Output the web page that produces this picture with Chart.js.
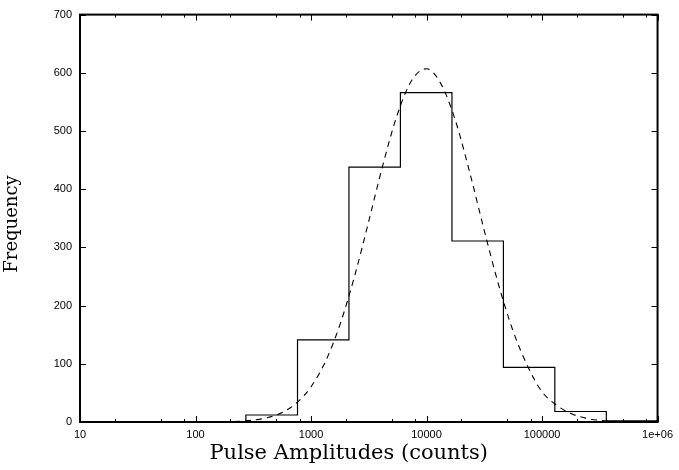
<!DOCTYPE html>
<html>
<head>
<meta charset="utf-8">
<script src="https://cdn.jsdelivr.net/npm/chart.js@4"></script>
<style>
  html, body { margin: 0; padding: 0; background: #fff; }
  #wrap { width: 679px; height: 470px; }
</style>
</head>
<body>
<div id="wrap"><canvas id="myChart"></canvas></div>
<script>
// histogram bins (pulse amplitude, counts)
var binEdges = [273, 764, 2130, 5940, 16600, 46300, 129000, 360000, 1000000];
var binCounts = [12, 141, 438, 566, 311, 94, 18, 2];

// dashed fit curve
var fitAmplitude = [10, 31.6, 56.2, 100, 133.4, 177.8, 237.1, 316.2, 421.7, 562.3, 749.9,
    1000, 1334, 1778, 2371, 3162, 4217, 5623, 7499, 10000, 13335, 17783, 23714, 31623,
    42170, 56234, 74989, 100000, 133352, 177828, 237137, 316228, 421697, 562341, 1000000];
var fitFrequency = [0, 0, 0, 0.05, 0.17, 0.5, 1.3, 3.3, 7.6, 16.3, 32.6,
    60.5, 104, 167, 249, 345, 444, 530, 588, 607, 581, 518, 428, 329,
    235, 156, 96, 52, 29, 14.5, 6.7, 2.8, 1.1, 0.4, 0];

// axis ticks
var xTickValues = [10, 100, 1000, 10000, 100000, 1000000];
var xTickLabels = ['10', '100', '1000', '10000', '100000', '1e+06'];
var xMinorSteps = [2, 5, 8];
var yTickValues = [0, 100, 200, 300, 400, 500, 600, 700];

// step outline of the histogram
var histPoints = [{ x: binEdges[0], y: 0 }];
for (var i = 0; i < binCounts.length; i++) {
    histPoints.push({ x: binEdges[i], y: binCounts[i] });
}
histPoints.push({ x: binEdges[binEdges.length - 1], y: binCounts[binCounts.length - 1] });

var fitPoints = fitAmplitude.map(function (a, i) { return { x: a, y: fitFrequency[i] }; });

// gnuplot style frame with inward ticks
var frameTicks = {
    id: 'frameTicks',
    afterDatasetsDraw: function (chart) {
        var ctx = chart.ctx, a = chart.chartArea;
        var xs = chart.scales.x, ys = chart.scales.y;
        ctx.save();
        ctx.strokeStyle = '#000';
        ctx.lineWidth = 1;
        ctx.beginPath();
        xTickValues.forEach(function (v) {
            var px = Math.round(xs.getPixelForValue(v)) + 0.5;
            ctx.moveTo(px, a.bottom); ctx.lineTo(px, a.bottom - 6);
            ctx.moveTo(px, a.top); ctx.lineTo(px, a.top + 6);
        });
        for (var d = 10; d < 1000000; d *= 10) {
            xMinorSteps.forEach(function (m) {
                var px = Math.round(xs.getPixelForValue(m * d)) + 0.5;
                ctx.moveTo(px, a.bottom); ctx.lineTo(px, a.bottom - 3);
                ctx.moveTo(px, a.top); ctx.lineTo(px, a.top + 3);
            });
        }
        yTickValues.forEach(function (v) {
            var py = Math.round(ys.getPixelForValue(v)) + 0.5;
            ctx.moveTo(a.left, py); ctx.lineTo(a.left + 6, py);
            ctx.moveTo(a.right, py); ctx.lineTo(a.right - 6, py);
        });
        ctx.stroke();
        ctx.lineWidth = 2;
        ctx.strokeRect(a.left, a.top, a.right - a.left, a.bottom - a.top);
        ctx.restore();
    }
};

var ctx = document.getElementById('myChart').getContext('2d');
var chart = new Chart(ctx, {
    type: 'line',
    data: {
        datasets: [{
            label: 'histogram',
            data: histPoints,
            stepped: 'before',
            borderColor: '#000',
            borderWidth: 1.2,
            pointRadius: 0,
            fill: false
        }, {
            label: 'fit',
            data: fitPoints,
            borderColor: '#000',
            borderWidth: 1.1,
            borderDash: [6, 5],
            cubicInterpolationMode: 'monotone',
            pointRadius: 0,
            fill: false
        }]
    },
    options: {
        responsive: true,
        maintainAspectRatio: false,
        animation: false,
        layout: { padding: { left: 0, top: 14, right: 19, bottom: 0 } },
        plugins: {
            legend: { display: false },
            tooltip: { enabled: false }
        },
        scales: {
            x: {
                type: 'logarithmic',
                min: 10,
                max: 1000000,
                afterBuildTicks: function (scale) {
                    scale.ticks = xTickValues.map(function (v) { return { value: v }; });
                },
                afterFit: function (scale) { scale.height = 48; },
                grid: { display: false, drawTicks: false },
                border: { display: false },
                ticks: {
                    autoSkip: false,
                    maxRotation: 0,
                    padding: 6,
                    color: '#000',
                    font: { family: 'Liberation Sans', size: 11 },
                    callback: function (v) {
                        var k = xTickValues.indexOf(v);
                        return k >= 0 ? xTickLabels[k] : '';
                    }
                },
                title: {
                    display: true,
                    // trailing spaces nudge the label left like the original
                    text: 'Pulse Amplitudes (counts)      ',
                    color: '#000',
                    font: { family: 'DejaVu Serif', size: 21 },
                    padding: { top: 0, bottom: 4 }
                }
            },
            y: {
                min: 0,
                max: 700,
                afterBuildTicks: function (scale) {
                    scale.ticks = yTickValues.map(function (v) { return { value: v }; });
                },
                afterFit: function (scale) { scale.width = 80; },
                grid: { display: false, drawTicks: false },
                border: { display: false },
                ticks: {
                    padding: 8,
                    color: '#000',
                    font: { family: 'Liberation Sans', size: 11 }
                },
                title: {
                    display: true,
                    text: 'Frequency  ',
                    color: '#000',
                    font: { family: 'DejaVu Serif', size: 18 },
                    padding: { top: 2, bottom: 0 }
                }
            }
        }
    },
    plugins: [frameTicks]
});
</script>
</body>
</html>
